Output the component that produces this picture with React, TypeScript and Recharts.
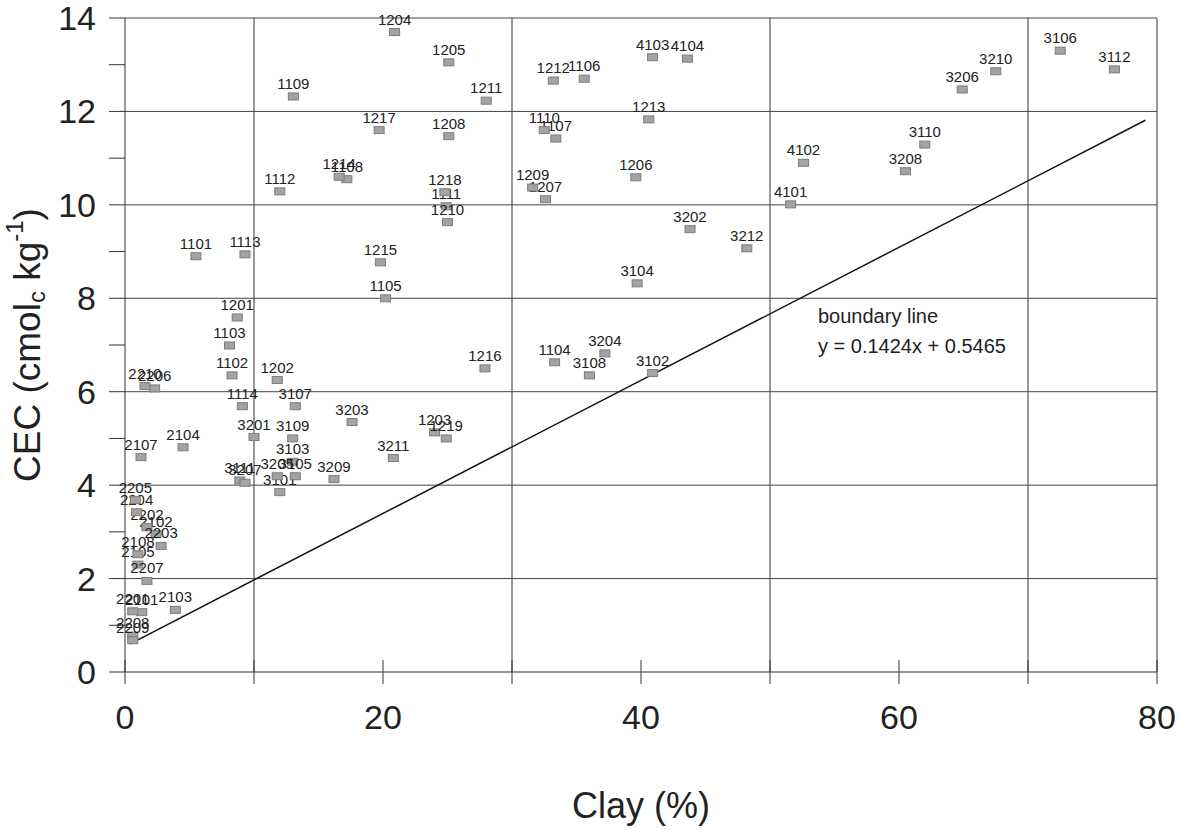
import { ScatterChart, Scatter, XAxis, YAxis, ReferenceLine } from 'recharts';

// sample id, clay (%) and CEC
const sampleIds = [
  '1101', '1102', '1103', '1104', '1105', '1106', '1107', '1108', '1109', '1110', '1111', '1112', '1113', '1114',
  '1201', '1202', '1203', '1204', '1205', '1206', '1207', '1208', '1209', '1210', '1211', '1212', '1213', '1214',
  '1215', '1216', '1217', '1218', '1219',
  '2101', '2102', '2103', '2104', '2105', '2107', '2108',
  '2201', '2202', '2203', '2204', '2205', '2206', '2207', '2208', '2209', '2210',
  '3101', '3102', '3103', '3104', '3105', '3106', '3107', '3108', '3109', '3110', '3111', '3112',
  '3201', '3202', '3203', '3204', '3205', '3206', '3207', '3208', '3209', '3210', '3211', '3212',
  '4101', '4102', '4103', '4104',
];
const clayPct = [
  5.5, 8.3, 8.1, 33.3, 20.2, 35.6, 33.4, 17.2, 13.05, 32.5, 24.9, 12.0, 9.3, 9.1,
  8.7, 11.8, 24.0, 20.9, 25.1, 39.6, 32.6, 25.1, 31.6, 25.0, 28.0, 33.2, 40.6, 16.6,
  19.8, 27.9, 19.7, 24.8, 24.9,
  1.3, 2.4, 3.9, 4.5, 1.0, 1.24, 1.0,
  0.6, 1.7, 2.8, 0.9, 0.8, 2.3, 1.7, 0.6, 0.6, 1.55,
  12.0, 40.9, 13.0, 39.7, 13.2, 72.5, 13.2, 36.0, 13.0, 62.0, 8.9, 76.7,
  10.0, 43.8, 17.6, 37.2, 11.8, 64.9, 9.3, 60.5, 16.2, 67.5, 20.8, 48.2,
  51.6, 52.6, 40.9, 43.6,
];
const cecValues = [
  8.9, 6.35, 6.99, 6.63, 8.0, 12.7, 11.42, 10.55, 12.32, 11.6, 9.97, 10.29, 8.94, 5.69,
  7.59, 6.25, 5.13, 13.7, 13.05, 10.59, 10.12, 11.47, 10.37, 9.63, 12.23, 12.66, 11.83, 10.6,
  8.77, 6.5, 11.6, 10.27, 5.0,
  1.28, 2.95, 1.33, 4.81, 2.3, 4.6, 2.52,
  1.3, 3.1, 2.7, 3.42, 3.68, 6.07, 1.95, 0.78, 0.68, 6.12,
  3.85, 6.4, 4.5, 8.32, 4.19, 13.3, 5.69, 6.35, 5.0, 11.29, 4.1, 12.9,
  5.03, 9.48, 5.35, 6.82, 4.19, 12.47, 4.05, 10.72, 4.13, 12.86, 4.58, 9.07,
  10.01, 10.9, 13.16, 13.13,
];

const xTicks = [0, 10, 20, 30, 40, 50, 60, 70, 80];
const yTicks = [0, 1, 2, 3, 4, 5, 6, 7, 8, 9, 10, 11, 12, 13, 14];
const xGrid = [10, 30, 50, 70, 80];
const yGrid = [2, 4, 6, 8, 10, 12, 14];

// boundary line y = 0.1424x + 0.5465
const slope = 0.1424;
const intercept = 0.5465;
const lineStart = 0.4;
const lineEnd = 79.1;

const points = sampleIds.map((id, i) => ({ id, x: clayPct[i], y: cecValues[i] }));

const XTick = ({ x, y, payload }: any) => (
  <g>
    <line x1={x} x2={x} y1={y - 12} y2={y + 12} stroke="#333" />
    {payload.value % 20 === 0 && (
      <text x={x} y={y + 45} textAnchor="middle" dominantBaseline="central" fontSize={34} fill="#222">
        {payload.value}
      </text>
    )}
  </g>
);

const YTick = ({ x, y, payload }: any) => (
  <g>
    <line x1={x - 16} x2={x} y1={y} y2={y} stroke="#333" />
    {payload.value % 2 === 0 && (
      <text x={x - 29} y={y} textAnchor="end" dominantBaseline="central" fontSize={34} fill="#222">
        {payload.value}
      </text>
    )}
  </g>
);

const YTitle = ({ viewBox }: any) => {
  const cx = viewBox.x + 27;
  const cy = viewBox.y + viewBox.height / 2;
  return (
    <text
      x={cx}
      y={cy}
      transform={`rotate(-90, ${cx}, ${cy})`}
      textAnchor="middle"
      dominantBaseline="central"
      fontSize={37}
      fill="#222"
    >
      CEC (cmol<tspan dy={9} fontSize={24}>c</tspan>
      <tspan dy={-9}> kg</tspan>
      <tspan dy={-13} fontSize={24}>-1</tspan>
      <tspan dy={13}>)</tspan>
    </text>
  );
};

const XTitle = ({ viewBox }: any) => (
  <text
    x={viewBox.x + viewBox.width / 2}
    y={viewBox.y + 133}
    textAnchor="middle"
    dominantBaseline="central"
    fontSize={36}
    fill="#222"
  >
    Clay (%)
  </text>
);

const SampleMark = (props: any) => {
  const { cx, cy } = props;
  const id = props.id ?? props.payload?.id;
  return (
    <g>
      <rect x={cx - 5} y={cy - 3.5} width={10} height={7} fill="#a3a3a3" stroke="#7c7c7c" />
      <text x={cx} y={cy - 13} textAnchor="middle" dominantBaseline="central" fontSize={15} fill="#222">
        {id}
      </text>
    </g>
  );
};

export default function App() {
  return (
    <div
      style={{
        position: 'absolute',
        left: 0,
        top: 0,
        width: 1181,
        height: 829,
        background: '#fff',
        fontFamily: '"Liberation Sans", Arial, sans-serif',
      }}
    >
      <ScatterChart width={1181} height={829} margin={{ top: 18, right: 24, bottom: 0, left: 0 }}>
        <XAxis
          type="number"
          dataKey="x"
          domain={[0, 80]}
          ticks={xTicks}
          height={157}
          tickSize={0}
          tickMargin={0}
          tickLine={false}
          tick={XTick}
          axisLine={{ stroke: '#333' }}
          label={{ content: XTitle }}
        />
        <YAxis
          type="number"
          dataKey="y"
          domain={[0, 14]}
          ticks={yTicks}
          width={125}
          tickSize={0}
          tickMargin={0}
          tickLine={false}
          tick={YTick}
          axisLine={{ stroke: '#333' }}
          label={{ content: YTitle }}
        />
        {xGrid.map((v) => (
          <ReferenceLine key={'x' + v} x={v} stroke="#333" />
        ))}
        {yGrid.map((v) => (
          <ReferenceLine key={'y' + v} y={v} stroke="#444" />
        ))}
        <ReferenceLine
          segment={[
            { x: lineStart, y: slope * lineStart + intercept },
            { x: lineEnd, y: slope * lineEnd + intercept },
          ]}
          stroke="#111"
          strokeWidth={1.5}
        />
        <Scatter data={points} shape={SampleMark} isAnimationActive={false} />
      </ScatterChart>
      <div style={{ position: 'absolute', left: 818, top: 301, fontSize: 20, lineHeight: '30px', color: '#222' }}>
        boundary line
        <br />
        y = 0.1424x + 0.5465
      </div>
    </div>
  );
}
